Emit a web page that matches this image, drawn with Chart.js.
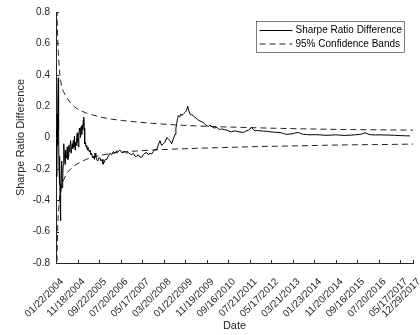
<!DOCTYPE html>
<html>
<head>
<meta charset="utf-8">
<script src="https://cdn.jsdelivr.net/npm/chart.js@4"></script>
<style>
  body { margin: 0; background: #fff; }
</style>
</head>
<body>
<canvas id="myChart" width="420" height="335"></canvas>
<script>
// trading-day index of each tick and its date label
var tickDays = [0, 200, 400, 600, 800, 1000, 1200, 1400, 1600, 1800, 2000, 2200, 2400, 2600, 2800, 3000, 3200, 3320];
var tickLabels = ["01/22/2004", "11/18/2004", "09/22/2005", "07/20/2006", "05/17/2007", "03/20/2008",
  "01/22/2009", "11/19/2009", "09/16/2010", "07/21/2011", "05/17/2012", "03/21/2013",
  "01/23/2014", "11/20/2014", "09/16/2015", "07/20/2016", "05/17/2017", "12/29/2017"];

var lineDays = [1, 3, 6, 9, 12, 15, 18, 21, 24, 28, 32, 35, 38, 41, 43, 46, 50, 53, 57, 62, 66, 70, 74, 79, 84, 89, 94, 99,
  105, 110, 115, 120, 125, 130, 136, 141, 146, 151, 156, 161, 166, 172, 177, 182, 187, 192, 198, 203, 208, 213, 218,
  223, 228, 234, 239, 244, 249, 254, 257, 260, 263, 267, 273, 279, 285, 291, 296, 301, 308, 316, 323, 331, 341, 350,
  357, 363, 370, 378, 388, 398, 409, 418, 428, 437, 447, 458, 471, 485, 502, 517, 533, 548, 564, 580, 595, 610, 623,
  640, 656, 672, 688, 705, 720, 735, 750, 765, 780, 797, 812, 828, 843, 858, 874, 890, 905, 921, 936, 950, 967, 982,
  998, 1013, 1030, 1045, 1060, 1076, 1090, 1107, 1115, 1123, 1130, 1138, 1150, 1160, 1169, 1185, 1200, 1212, 1225,
  1235, 1246, 1260, 1274, 1290, 1309, 1325, 1339, 1355, 1370, 1385, 1402, 1417, 1432, 1450, 1470, 1495, 1520, 1541,
  1565, 1588, 1610, 1634, 1655, 1681, 1710, 1742, 1765, 1789, 1805, 1820, 1835, 1851, 1875, 1898, 1930, 1960, 1990,
  2021, 2050, 2084, 2115, 2146, 2175, 2207, 2230, 2254, 2280, 2300, 2330, 2363, 2410, 2456, 2500, 2549, 2600, 2642,
  2690, 2735, 2780, 2828, 2850, 2874, 2900, 2921, 2970, 3014, 3060, 3107, 3150, 3200, 3250, 3293];
var sharpeDiff = [0.05, -0.10, 0.02, -0.25, 0.15, -0.05, 0.22, 0.38, 0.05, -0.19, -0.30, -0.12, -0.40, -0.30, -0.53,
  -0.35, -0.22, -0.15, -0.32, -0.28, -0.18, -0.10, -0.04, -0.12, -0.17, -0.08, -0.13, -0.10,
  -0.06, -0.14, -0.12, -0.05, -0.09, -0.06, -0.02, -0.10, -0.10, -0.04, -0.07, -0.02, -0.06, 0.01, -0.08, -0.03, -0.05,
  0.0, 0.03, -0.03, -0.06, 0.01, 0.06, 0.04, 0.0, 0.07, 0.02, 0.08, 0.05, 0.11, 0.08, 0.13, 0.06, -0.04, -0.03, -0.06,
  -0.05, -0.08, -0.06, -0.07, -0.09, -0.08, -0.11, -0.10, -0.13, -0.12, -0.14, -0.10, -0.12, -0.14, -0.15, -0.13,
  -0.13, -0.15, -0.14, -0.17, -0.16, -0.14, -0.14, -0.12, -0.10, -0.11, -0.09, -0.10, -0.085, -0.09, -0.08, -0.095,
  -0.095, -0.09, -0.10, -0.095, -0.105, -0.11, -0.10, -0.12, -0.12, -0.11, -0.125, -0.125, -0.11, -0.10, -0.095,
  -0.11, -0.10, -0.105, -0.09, -0.075, -0.08, -0.05, -0.02, -0.05, -0.04, -0.03, 0.0, -0.01, -0.02, -0.04, -0.01,
  0.02, 0.06, 0.09, 0.12, 0.14, 0.13, 0.15, 0.14, 0.15, 0.16, 0.17, 0.20, 0.17, 0.15, 0.145, 0.14, 0.13, 0.12, 0.11,
  0.105, 0.10, 0.095, 0.085, 0.075, 0.07, 0.08, 0.07, 0.06, 0.065, 0.05, 0.055, 0.05, 0.047, 0.04, 0.036, 0.042,
  0.04, 0.035, 0.032, 0.04, 0.047, 0.055, 0.064, 0.05, 0.043, 0.045, 0.043, 0.04, 0.04, 0.036, 0.034, 0.033, 0.032,
  0.025, 0.02, 0.022, 0.025, 0.03, 0.032, 0.024, 0.02, 0.019, 0.017, 0.018, 0.017, 0.014, 0.015, 0.017, 0.015,
  0.013, 0.015, 0.017, 0.02, 0.024, 0.03, 0.022, 0.018, 0.016, 0.017, 0.016, 0.015, 0.014, 0.012, 0.011, 0.01];

var bandDays = [1, 3, 6, 10, 15, 20, 30, 40, 55, 75, 100, 130, 170, 220, 280, 350, 430, 520, 620, 750, 900, 1100,
  1300, 1550, 1800, 2100, 2400, 2700, 3000, 3320];
var upperBand = [2.6, 1.5, 1.05, 0.80, 0.66, 0.56, 0.45, 0.38, 0.32, 0.285, 0.255, 0.225, 0.197, 0.175, 0.156, 0.142,
  0.128, 0.117, 0.108, 0.099, 0.09, 0.081, 0.074, 0.068, 0.063, 0.058, 0.054, 0.051, 0.049, 0.047];
var lowerBand = [-2.0, -1.3, -0.95, -0.75, -0.60, -0.50, -0.41, -0.35, -0.30, -0.265, -0.23, -0.205, -0.18, -0.16,
  -0.14, -0.125, -0.112, -0.101, -0.092, -0.086, -0.080, -0.074, -0.069, -0.064, -0.059, -0.055, -0.051, -0.047,
  -0.045, -0.042];

var font = "'Liberation Sans', Arial, Helvetica, sans-serif";
var axisColor = "#262626";

function pairs(xs, ys) {
  return xs.map(function (x, i) { return { x: x, y: ys[i] }; });
}

// MATLAB-style ticks that point into the plot
var innerTicks = {
  id: "innerTicks",
  afterDraw: function (chart) {
    var ctx = chart.ctx, area = chart.chartArea;
    var xs = chart.scales.x, ys = chart.scales.y;
    ctx.save();
    ctx.strokeStyle = axisColor;
    ctx.lineWidth = 1;
    ctx.beginPath();
    xs.ticks.forEach(function (t) {
      var px = Math.round(xs.getPixelForValue(t.value)) + 0.5;
      ctx.moveTo(px, area.bottom);
      ctx.lineTo(px, area.bottom - 3);
    });
    ys.ticks.forEach(function (t) {
      var py = Math.round(ys.getPixelForValue(t.value)) + 0.5;
      ctx.moveTo(area.left, py);
      ctx.lineTo(area.left + 3, py);
    });
    ctx.stroke();
    ctx.restore();
  }
};

// boxed legend in the upper right corner of the plot
var boxLegend = {
  id: "boxLegend",
  afterDraw: function (chart) {
    var ctx = chart.ctx, area = chart.chartArea;
    var sets = chart.data.datasets.filter(function (d) { return !d.hideInLegend; });
    var w = 148, rowH = 13.5;
    var h = sets.length * rowH + 4;
    var x0 = Math.round(area.right - 9 - w) + 0.5;
    var y0 = Math.round(area.top + 9) + 0.5;
    ctx.save();
    ctx.fillStyle = "#fff";
    ctx.fillRect(x0, y0, w, h);
    ctx.strokeStyle = axisColor;
    ctx.lineWidth = 0.6;
    ctx.strokeRect(x0, y0, w, h);
    ctx.font = "10px " + font;
    ctx.textBaseline = "middle";
    sets.forEach(function (d, i) {
      var cy = y0 + 9 + i * rowH;
      ctx.strokeStyle = d.borderColor;
      ctx.lineWidth = 1;
      ctx.setLineDash(d.borderDash || []);
      ctx.beginPath();
      ctx.moveTo(x0 + 3, cy);
      ctx.lineTo(x0 + 36, cy);
      ctx.stroke();
      ctx.setLineDash([]);
      ctx.fillStyle = "#000";
      ctx.fillText(d.label, x0 + 39, cy);
    });
    ctx.restore();
  }
};

new Chart("myChart", {
  type: "line",
  data: {
    datasets: [{
      label: "Sharpe Ratio Difference",
      data: pairs(lineDays, sharpeDiff),
      borderColor: "#000",
      borderWidth: 1,
      pointRadius: 0,
      tension: 0
    }, {
      label: "95% Confidence Bands",
      data: pairs(bandDays, upperBand),
      borderColor: "#222",
      borderWidth: 1,
      borderDash: [6, 4],
      pointRadius: 0,
      cubicInterpolationMode: "monotone"
    }, {
      label: "95% Confidence Bands",
      hideInLegend: true,
      data: pairs(bandDays, lowerBand),
      borderColor: "#222",
      borderWidth: 1,
      borderDash: [6, 4],
      pointRadius: 0,
      cubicInterpolationMode: "monotone"
    }]
  },
  options: {
    responsive: false,
    animation: false,
    devicePixelRatio: 1,
    layout: { padding: { left: 14, right: 7, top: 12, bottom: 0 } },
    plugins: {
      legend: { display: false },
      tooltip: { enabled: false }
    },
    scales: {
      x: {
        type: "linear",
        min: 0,
        max: 3320,
        grid: { display: false, drawTicks: false },
        border: { display: true, color: axisColor, width: 1 },
        afterBuildTicks: function (scale) {
          scale.ticks = tickDays.map(function (v) { return { value: v }; });
        },
        afterFit: function (scale) {
          scale.height = 72;
          scale.paddingLeft = 0;
          scale.paddingRight = 0;
        },
        ticks: {
          autoSkip: false,
          maxRotation: 45,
          minRotation: 45,
          padding: 13,
          labelOffset: 6,
          color: axisColor,
          font: { family: font, size: 10 },
          callback: function (v, i) { return tickLabels[i]; }
        },
        title: {
          display: true,
          text: "Date",
          color: axisColor,
          padding: 2,
          font: { family: font, size: 11 }
        }
      },
      y: {
        min: -0.8,
        max: 0.8,
        grid: { display: false, drawTicks: false },
        border: { display: true, color: axisColor, width: 1 },
        afterFit: function (scale) { scale.width = 42; },
        ticks: {
          stepSize: 0.2,
          padding: 6,
          color: axisColor,
          font: { family: font, size: 10 },
          callback: function (v) { return String(Number(v.toFixed(1))); }
        },
        title: {
          display: true,
          text: "Sharpe Ratio Difference",
          color: axisColor,
          padding: 0,
          font: { family: font, size: 11 }
        }
      }
    }
  },
  plugins: [innerTicks, boxLegend]
});
</script>
</body>
</html>
